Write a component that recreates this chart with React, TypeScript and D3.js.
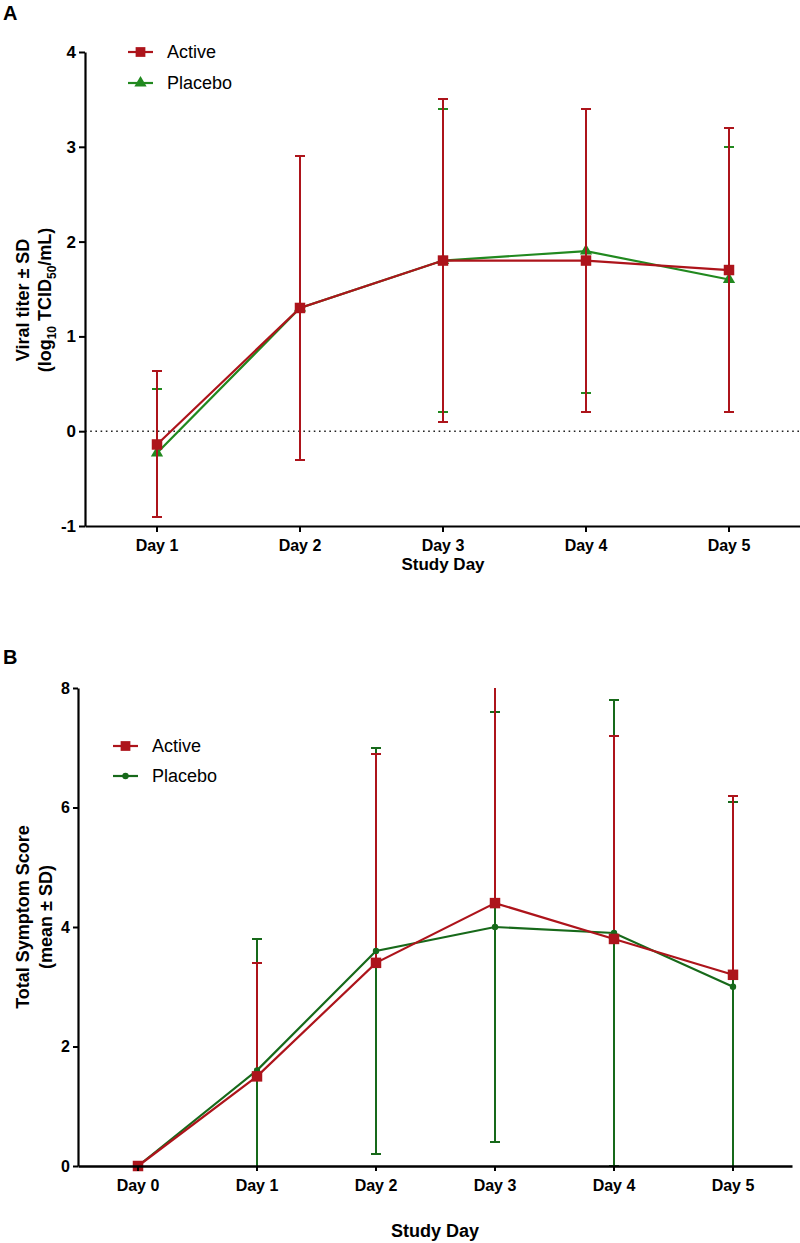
import React, { useEffect, useRef } from 'react';
import * as d3 from 'd3';

// Panel A - viral titer
const daysA = ['Day 1', 'Day 2', 'Day 3', 'Day 4', 'Day 5'];
const activeMeanA = [-0.14, 1.3, 1.8, 1.8, 1.7];
const activeSdA = [0.77, 1.6, 1.7, 1.6, 1.5];
const placeboMeanA = [-0.23, 1.3, 1.8, 1.9, 1.6];
const placeboSdA = [0.67, 1.6, 1.6, 1.5, 1.4];
const ticksA = [-1, 0, 1, 2, 3, 4];

// Panel B - symptom score
const daysB = ['Day 0', 'Day 1', 'Day 2', 'Day 3', 'Day 4', 'Day 5'];
const activeMeanB = [0, 1.5, 3.4, 4.4, 3.8, 3.2];
const activeSdB = [0, 1.9, 3.5, 3.8, 3.4, 3.0];
const placeboMeanB = [0, 1.6, 3.6, 4.0, 3.9, 3.0];
const placeboSdB = [0, 2.2, 3.4, 3.6, 3.9, 3.1];
const ticksB = [0, 2, 4, 6, 8];

const RED = '#ad141b';
const GREEN_A = '#21891f';
const GREEN_B = '#17691a';
const FONT = 'Liberation Sans, Arial, Helvetica, sans-serif';

const App = () => {
  const svgRef = useRef(null);

  useEffect(() => {
    document.body.style.margin = '0';
    const svg = d3.select(svgRef.current);
    svg.selectAll('*').remove();

    const symbolOf = (shape, big) => d3.symbol()
      .type(shape === 'square' ? d3.symbolSquare : shape === 'triangle' ? d3.symbolTriangle : d3.symbolCircle)
      .size(shape === 'square' ? (big ? 110 : 95) : shape === 'triangle' ? 65 : 32);

    const drawErrors = (g, x, y, days, means, sds, color, dir, yMin, yMax) => {
      const pts = days.map((d, i) => ({ d, m: means[i], s: sds[i] }));
      pts.forEach(p => {
        if (p.s === 0) return;
        const cx = Math.round(x(p.d));
        const hi = p.m + p.s;
        const lo = p.m - p.s;
        const top = Math.min(hi, yMax);
        const bot = Math.max(lo, yMin);
        const y0 = dir === 'up' ? p.m : bot;
        g.append('line')
          .attr('x1', cx).attr('x2', cx)
          .attr('y1', y(y0)).attr('y2', y(top))
          .attr('stroke', color).attr('stroke-width', 2)
          .attr('shape-rendering', 'crispEdges');
        if (hi <= yMax) {
          g.append('line')
            .attr('x1', cx - 5).attr('x2', cx + 5)
            .attr('y1', y(hi)).attr('y2', y(hi))
            .attr('stroke', color).attr('stroke-width', 2)
            .attr('shape-rendering', 'crispEdges');
        }
        if (dir !== 'up' && lo >= yMin) {
          g.append('line')
            .attr('x1', cx - 5).attr('x2', cx + 5)
            .attr('y1', y(lo)).attr('y2', y(lo))
            .attr('stroke', color).attr('stroke-width', 2)
            .attr('shape-rendering', 'crispEdges');
        }
      });
      return pts;
    };

    const drawLine = (g, x, y, pts, color, shape) => {
      const line = d3.line().x(p => Math.round(x(p.d))).y(p => y(p.m));
      g.append('path')
        .datum(pts)
        .attr('d', line)
        .attr('fill', 'none')
        .attr('stroke', color)
        .attr('stroke-width', 2.2);
      g.selectAll(null)
        .data(pts)
        .enter()
        .append('path')
        .attr('d', symbolOf(shape, true))
        .attr('transform', p => `translate(${Math.round(x(p.d))},${y(p.m)})`)
        .attr('fill', color);
    };

    const legendItem = (g, x0, y0, color, shape, label) => {
      g.append('line')
        .attr('x1', x0).attr('x2', x0 + 25)
        .attr('y1', y0).attr('y2', y0)
        .attr('stroke', color).attr('stroke-width', 2.2);
      g.append('path')
        .attr('d', symbolOf(shape, false))
        .attr('transform', `translate(${x0 + 12.5},${y0})`)
        .attr('fill', color);
      g.append('text')
        .attr('x', x0 + 39).attr('y', y0)
        .attr('dy', '0.35em')
        .style('font-family', FONT)
        .style('font-size', '18px')
        .text(label);
    };

    const styleAxis = (ax, size, weight) => {
      ax.select('.domain').attr('stroke-width', 2.2);
      ax.selectAll('.tick line').attr('stroke-width', 2);
      ax.selectAll('.tick text')
        .style('font-family', FONT).style('font-size', size).style('font-weight', weight);
    };

    // ---------- Panel A ----------
    const gA = svg.append('g');
    const xA = d3.scalePoint().domain(daysA).range([85, 800]).padding(0.5);
    const yA = d3.scaleLinear().domain([-1, 4]).range([526, 52]);

    gA.append('text')
      .attr('x', 3).attr('y', 20)
      .style('font-family', FONT).style('font-size', '20px').style('font-weight', 'bold')
      .text('A');

    // zero reference
    gA.append('line')
      .attr('x1', 85).attr('x2', 800)
      .attr('y1', yA(0)).attr('y2', yA(0))
      .attr('stroke', '#222').attr('stroke-width', 1.6)
      .attr('stroke-dasharray', '1.6,3.6');

    const axA = gA.append('g').attr('transform', 'translate(85,0)')
      .call(d3.axisLeft(yA).tickValues(ticksA).tickSize(6).tickSizeOuter(0).tickFormat(d => String(d)));
    styleAxis(axA, '17px', 'bold');
    axA.selectAll('.tick text').attr('x', -9);

    const bxA = gA.append('g').attr('transform', 'translate(0,526)')
      .call(d3.axisBottom(xA).tickSize(6).tickSizeOuter(0));
    styleAxis(bxA, '16px', 'bold');
    bxA.selectAll('.tick text').attr('y', 14);

    gA.append('text')
      .attr('x', 443).attr('y', 570)
      .attr('text-anchor', 'middle')
      .style('font-family', FONT).style('font-size', '17px').style('font-weight', 'bold')
      .text('Study Day');

    const ylabA = gA.append('text')
      .attr('transform', 'translate(29,300) rotate(-90)')
      .attr('text-anchor', 'middle')
      .style('font-family', FONT).style('font-size', '18px').style('font-weight', 'bold');
    ylabA.append('tspan').attr('x', 0).attr('y', 0).text('Viral titer ± SD');
    const l2 = ylabA.append('tspan').attr('x', 0).attr('y', 22);
    l2.append('tspan').text('(log');
    l2.append('tspan').attr('font-size', '12px').attr('dy', 5).text('10');
    l2.append('tspan').attr('dy', -5).text(' TCID');
    l2.append('tspan').attr('font-size', '12px').attr('dy', 5).text('50');
    l2.append('tspan').attr('dy', -5).text('/mL)');

    const ptsPA = drawErrors(gA, xA, yA, daysA, placeboMeanA, placeboSdA, GREEN_A, 'both', -1, 4);
    drawLine(gA, xA, yA, ptsPA, GREEN_A, 'triangle');
    const ptsAA = drawErrors(gA, xA, yA, daysA, activeMeanA, activeSdA, RED, 'both', -1, 4);
    drawLine(gA, xA, yA, ptsAA, RED, 'square');

    legendItem(gA, 128, 52, RED, 'square', 'Active');
    legendItem(gA, 128, 83, GREEN_A, 'triangle', 'Placebo');

    // ---------- Panel B ----------
    const gB = svg.append('g');
    const xB = d3.scalePoint().domain(daysB).range([78, 792]).padding(0.5);
    const yB = d3.scaleLinear().domain([0, 8]).range([1166, 688]);

    gB.append('text')
      .attr('x', 3).attr('y', 664)
      .style('font-family', FONT).style('font-size', '20px').style('font-weight', 'bold')
      .text('B');

    const ptsPB = drawErrors(gB, xB, yB, daysB, placeboMeanB, placeboSdB, GREEN_B, 'both', 0, 8);
    const ptsAB = drawErrors(gB, xB, yB, daysB, activeMeanB, activeSdB, RED, 'up', 0, 8);
    drawLine(gB, xB, yB, ptsPB, GREEN_B, 'circle');
    drawLine(gB, xB, yB, ptsAB, RED, 'square');

    const axB = gB.append('g').attr('transform', 'translate(78,0)')
      .call(d3.axisLeft(yB).tickValues(ticksB).tickSize(5).tickSizeOuter(0).tickFormat(d => String(d)));
    styleAxis(axB, '16px', 'bold');
    axB.selectAll('.tick text').attr('x', -8);

    const bxB = gB.append('g').attr('transform', 'translate(0,1166)')
      .call(d3.axisBottom(xB).tickSize(5).tickSizeOuter(0));
    styleAxis(bxB, '16px', 'bold');
    bxB.select('.domain').attr('stroke-width', 2.6);
    bxB.selectAll('.tick text').attr('y', 14);

    gB.append('text')
      .attr('x', 435).attr('y', 1237)
      .attr('text-anchor', 'middle')
      .style('font-family', FONT).style('font-size', '18px').style('font-weight', 'bold')
      .text('Study Day');

    const ylabB = gB.append('text')
      .attr('transform', 'translate(29,917) rotate(-90)')
      .attr('text-anchor', 'middle')
      .style('font-family', FONT).style('font-size', '18px').style('font-weight', 'bold');
    ylabB.append('tspan').attr('x', 0).attr('y', 0).text('Total Symptom Score');
    ylabB.append('tspan').attr('x', 0).attr('y', 23).text('(mean ± SD)');

    legendItem(gB, 113, 746, RED, 'square', 'Active');
    legendItem(gB, 113, 776, GREEN_B, 'circle', 'Placebo');
  }, []);

  return (
    <svg ref={svgRef} width={800} height={1243} style={{ display: 'block', background: '#fff' }}></svg>
  );
};

export default App;
